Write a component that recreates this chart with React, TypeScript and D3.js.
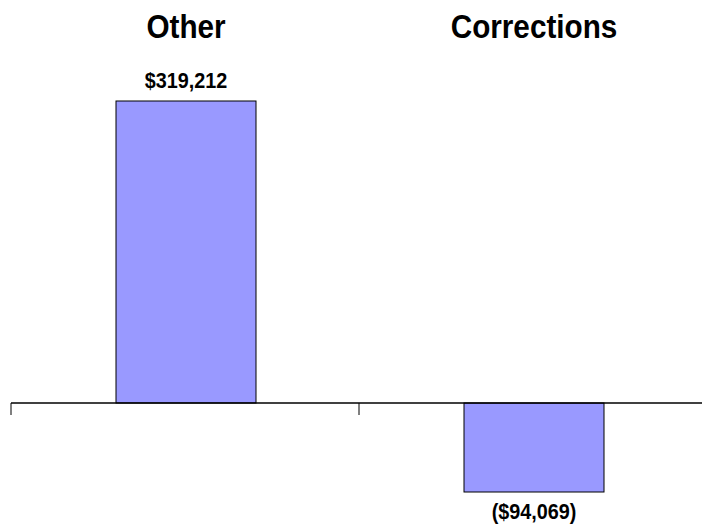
import React from "react";
import * as d3 from "d3";

const categories = ["Other", "Corrections"];
const values = [319212, -94069];
const valueLabels = ["$319,212", "($94,069)"];

const W = 702;
const H = 528;

export default function App() {
  const x = d3.scaleBand<string>().domain(categories).range([11, 707]).paddingInner(0).paddingOuter(0);
  const y = d3.scaleLinear().domain([-94069, 319212]).range([492, 101]);
  const barW = 140;
  const y0 = y(0);
  const font = "'Liberation Sans', Arial, sans-serif";
  const sx = 0.9;
  return (
    <svg width={W} height={H} style={{ position: "absolute", left: 0, top: 0, background: "#fff" }}>
      {categories.map((c, i) => {
        const cx = (x(c) as number) + x.bandwidth() / 2 + 1;
        const v = values[i];
        const top = y(Math.max(0, v));
        const bot = y(Math.min(0, v));
        return (
          <g key={c}>
            <text
              transform={`translate(${cx},38) scale(${sx},1)`}
              textAnchor="middle"
              fontFamily={font}
              fontWeight="bold"
              fontSize={33}
              fill="#000"
            >
              {c}
            </text>
            <rect x={cx - barW / 2} y={top} width={barW} height={bot - top} fill="#9999ff" stroke="#000" strokeWidth={1} />
            <text
              transform={`translate(${cx},${v >= 0 ? top - 13 : bot + 27}) scale(${sx},1)`}
              textAnchor="middle"
              fontFamily={font}
              fontWeight="bold"
              fontSize={22}
              fill="#000"
            >
              {valueLabels[i]}
            </text>
          </g>
        );
      })}
      <line x1={11} x2={707} y1={y0} y2={y0} stroke="#000" strokeWidth={1.5} />
      {categories.map((c) => (
        <line key={c} x1={(x(c) as number)} x2={(x(c) as number)} y1={y0} y2={y0 + 12} stroke="#000" strokeWidth={1} />
      ))}
    </svg>
  );
}
